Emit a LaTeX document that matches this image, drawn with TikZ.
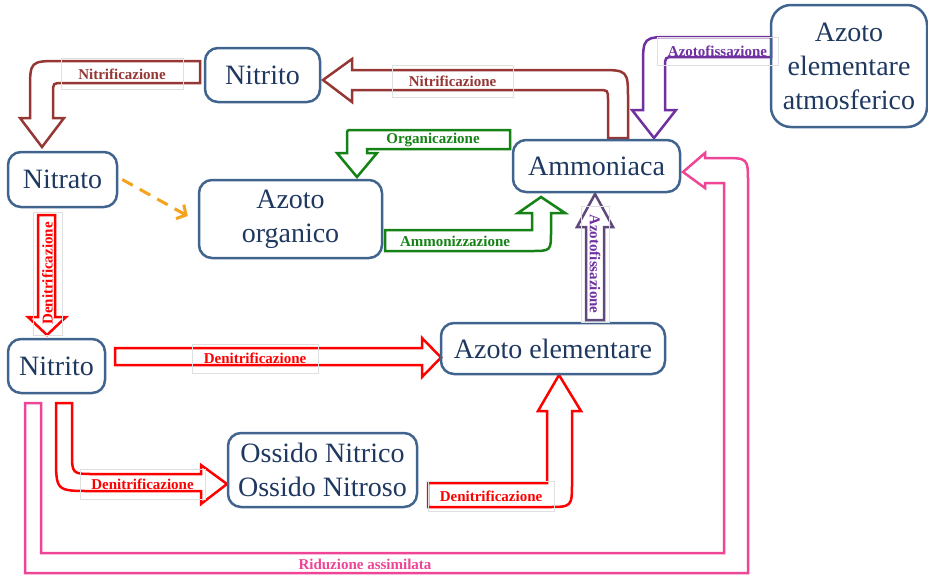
\documentclass[tikz,border=0pt]{standalone}
\usepackage{fontspec}
\setmainfont{Liberation Serif}
\usetikzlibrary{arrows.meta}

\definecolor{boxline}{RGB}{65,100,142}
\definecolor{boxtext}{RGB}{31,56,96}
\definecolor{brownc}{RGB}{149,55,53}
\definecolor{purplec}{RGB}{112,48,160}
\definecolor{lilac}{RGB}{95,73,122}
\definecolor{greenc}{RGB}{20,130,20}
\definecolor{redc}{RGB}{255,0,0}
\definecolor{pinkc}{RGB}{238,69,150}
\definecolor{orangec}{RGB}{245,162,28}

\begin{document}
\begin{tikzpicture}[
    x=1pt, y=-1pt,
    stage/.style={draw=boxline, line width=2.5pt, rounded corners=13pt, text=boxtext,
        align=center, inner sep=0pt, font=\fontsize{28}{34}\selectfont},
    blockarrow/.style={line width=2.5pt, fill=white, line join=miter},
    edgelabel/.style={font=\fontsize{15}{17}\selectfont\bfseries, inner sep=1pt},
    labelbox/.style={draw=gray!25, line width=0.8pt},
    dasharrow/.style={draw=orangec, line width=3pt, dash pattern=on 12pt off 8pt,
        -{Straight Barb[length=7pt,width=16pt]}}
]
\useasboundingbox (0,0) rectangle (928,576);

% Nitrificazione: Ammoniaca -> Nitrito
\draw[blockarrow, draw=brownc] (608,138) -- (608,100) .. controls (608,90) .. (598,90)
    -- (352,90) -- (352,102) -- (323,80) -- (352,59) -- (352,70) -- (598,70)
    .. controls (628,70) .. (628,100) -- (628,138) -- cycle;
% Nitrificazione: Nitrito -> Nitrato
\draw[blockarrow, draw=brownc] (200,61) -- (60,61) .. controls (30,61) .. (30,91)
    -- (30,118) -- (20,118) -- (42,147) -- (64,118) -- (53,118) -- (53,93)
    .. controls (53,83) .. (63,83) -- (200,83) -- cycle;
% Azotofissazione: atmosferico -> Ammoniaca
\draw[blockarrow, draw=purplec] (771,37) -- (673,37) .. controls (643,37) .. (643,67)
    -- (643,110) -- (632,110) -- (654,138) -- (676,110) -- (665,110) -- (665,67)
    .. controls (665,57) .. (675,57) -- (771,57) -- cycle;
% Organicazione
\draw[blockarrow, draw=greenc] (510,130) -- (352,130) .. controls (347,130) .. (347,135)
    -- (347,153) -- (337,153) -- (357,177) -- (377,153) -- (367,153) -- (367,149)
    -- (510,149) -- cycle;
% Ammonizzazione
\draw[blockarrow, draw=greenc] (385,230) -- (532,230) -- (532,213) -- (518,213)
    -- (541,197) -- (565,213) -- (551,213) -- (551,231) .. controls (551,251) .. (531,251)
    -- (385,251) -- cycle;
% Azotofissazione: Azoto elementare -> Ammoniaca
\draw[blockarrow, draw=lilac] (586,320) -- (586,227) -- (577,227) -- (595,194)
    -- (613,227) -- (604,227) -- (604,320) -- cycle;
% Denitrificazione arrows
\draw[blockarrow, draw=redc] (38,215) -- (38,317) -- (28,317) -- (47,335) -- (66,317)
    -- (55,317) -- (55,215) -- cycle;
\draw[blockarrow, draw=redc] (115,348) -- (422,348) -- (422,338) -- (441,357.5)
    -- (422,377) -- (422,365) -- (115,365) -- cycle;
\draw[blockarrow, draw=redc] (56,403) -- (56,456) .. controls (56,491) .. (91,491)
    -- (201,491) -- (201,504) -- (227,484) -- (201,465) -- (201,474) -- (94,474)
    .. controls (72,474) .. (72,452) -- (72,403) -- cycle;
\draw[blockarrow, draw=redc] (428,483) -- (547,483) -- (547,411) -- (538,411)
    -- (559,375) -- (581,411) -- (572,411) -- (572,482) .. controls (572,507) .. (547,507)
    -- (428,507) -- cycle;
% Riduzione assimilata
\draw[blockarrow, draw=pinkc] (25,403) -- (25,573) -- (748,573) -- (748,183)
    .. controls (748,158) .. (723,158) -- (705,158) -- (705,153) -- (683,172)
    -- (705,188) -- (705,183) -- (724,183) -- (724,553) -- (41,553) -- (41,403) -- cycle;

% Compounds
\node[stage, minimum width=115pt, minimum height=54pt] (nit1) at (262.5,75) {Nitrito};
\node[stage, minimum width=156pt, minimum height=122pt, rounded corners=20pt] (atm) at (849,66)
    {Azoto\\elementare\\atmosferico};
\node[stage, minimum width=109pt, minimum height=55pt] (nat) at (62.5,179.5) {Nitrato};
\node[stage, minimum width=183pt, minimum height=78pt] (org) at (290.5,219) {Azoto\\organico};
\node[stage, minimum width=167pt, minimum height=52pt] (amm) at (596.5,166) {Ammoniaca};
\node[stage, minimum width=97pt, minimum height=54pt] (nit2) at (56.5,366) {Nitrito};
\node[stage, minimum width=224pt, minimum height=51pt] (azel) at (553,348.5) {Azoto elementare};
\node[stage, minimum width=189pt, minimum height=74pt] (oss) at (322.5,470)
    {Ossido Nitrico\\Ossido Nitroso};

\draw[dasharrow] ([xshift=4pt]nat.east) -- ([xshift=-10pt,yshift=3pt]org.west);

% Labels
\node[edgelabel, labelbox, text=brownc, minimum width=121pt, minimum height=32pt] (lnitr1) at (452.5,81) {Nitrificazione};
\node[edgelabel, labelbox, text=brownc, minimum width=122pt, minimum height=31pt] (lnitr2) at (122,74) {Nitrificazione};
\node[edgelabel, labelbox, text=purplec, minimum width=121pt, minimum height=28pt] (lfix1) at (717.5,51) {Azotofissazione};
\node[edgelabel, text=greenc] (lorg) at (433,140) {Organicazione};
\node[edgelabel, text=greenc] (lamm) at (455,241) {Ammonizzazione};
\node[edgelabel, labelbox, text=purplec, rotate=-90, minimum width=116pt, minimum height=28pt] (lfix2) at (595,264) {Azotofissazione};
\node[edgelabel, labelbox, text=redc, rotate=90, minimum width=123pt, minimum height=29pt] (lden1) at (47.5,273.5) {Denitrificazione};
\node[edgelabel, labelbox, text=redc, minimum width=126pt, minimum height=29pt] (lden2) at (255,358.5) {Denitrificazione};
\node[edgelabel, labelbox, text=redc, minimum width=125pt, minimum height=30pt] (lden3) at (142.5,484) {Denitrificazione};
\node[edgelabel, labelbox, text=redc, minimum width=126pt, minimum height=30pt] (lden4) at (491,496.5) {Denitrificazione};
\node[edgelabel, text=pinkc] (lrid) at (365,564) {Riduzione assimilata};

\end{tikzpicture}
\end{document}
